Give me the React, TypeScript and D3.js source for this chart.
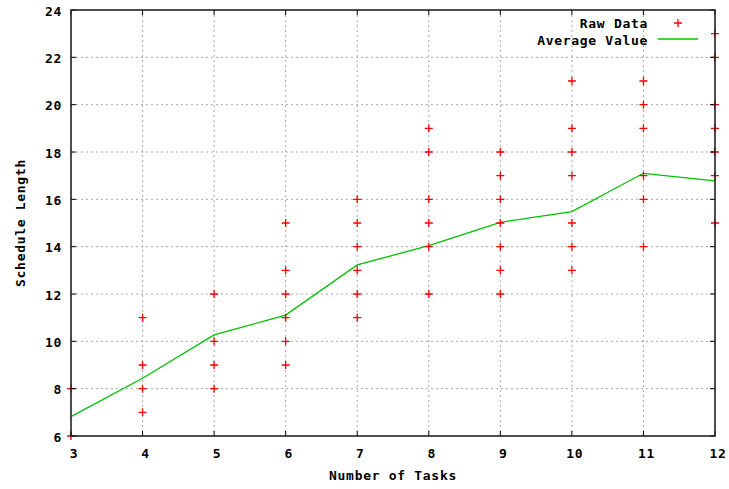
import React from "react";
import * as d3 from "d3";

const taskCounts = [3, 4, 5, 6, 7, 8, 9, 10, 11, 12];
const rawData: number[][] = [
  [8, 6],
  [11, 9, 8, 7],
  [12, 10, 9, 8],
  [15, 13, 12, 11, 10, 9],
  [16, 15, 14, 13, 12, 11],
  [19, 18, 16, 15, 14, 12],
  [18, 17, 16, 15, 14, 13, 12],
  [21, 19, 18, 17, 15, 14, 13],
  [21, 20, 19, 17, 16, 14],
  [23, 22, 20, 19, 18, 17, 15],
];
const averageValues = [6.82, 8.44, 10.27, 11.11, 13.23, 14.04, 15.03, 15.48, 17.1, 16.78];
const xTicks = [3, 4, 5, 6, 7, 8, 9, 10, 11, 12];
const yTicks = [6, 8, 10, 12, 14, 16, 18, 20, 22, 24];
const xLabel = "Number of Tasks";
const yLabel = "Schedule Length";
const legendRaw = "Raw Data";
const legendAvg = "Average Value";

const W = 729;
const H = 489;
const L = 71, R = 715, T = 10, B = 436;
const FONT = "'DejaVu Sans Mono', monospace";
const RED = "#ff0000";
const GREEN = "#00c000";

export default function App() {
  const x = d3.scaleLinear().domain([3, 12]).range([L, R]);
  const y = d3.scaleLinear().domain([6, 24]).range([B, T]);
  const points = taskCounts.flatMap((t, i) => rawData[i].map((v) => [t, v] as [number, number]));
  const line = d3
    .line<number>()
    .x((_, i) => x(taskCounts[i]))
    .y((d) => y(d));
  const plus = (cx: number, cy: number, k: string) => (
    <path key={k} d={`M${cx - 4},${cy}H${cx + 4}M${cx},${cy - 4}V${cy + 4}`} stroke={RED} strokeWidth={1.3} />
  );
  const textStyle = { fontFamily: FONT, fontWeight: 700, fontSize: 13, letterSpacing: 0.7 } as const;
  return (
    <svg width={W} height={H} style={{ position: "absolute", left: 0, top: 0, background: "#fff" }}>
      <rect x={0} y={0} width={W} height={H} fill="#fff" />
      {/* grid */}
      <g stroke="#a8a8a8" strokeWidth={1} strokeDasharray="2,3">
        {xTicks.slice(1, -1).map((t) => (
          <line key={"gx" + t} x1={x(t)} x2={x(t)} y1={T} y2={B} />
        ))}
        {yTicks.slice(1, -1).map((t) => (
          <line key={"gy" + t} x1={L} x2={R} y1={y(t)} y2={y(t)} />
        ))}
      </g>
      {/* average line */}
      <path d={line(averageValues) || ""} fill="none" stroke={GREEN} strokeWidth={1.3} />
      {/* raw points */}
      {points.map(([t, v], i) => plus(x(t), y(v), "p" + i))}
      {/* ticks */}
      <g stroke="#000" strokeWidth={1}>
        {xTicks.map((t) => (
          <g key={"tx" + t}>
            <line x1={x(t)} x2={x(t)} y1={B} y2={B - 5} />
            <line x1={x(t)} x2={x(t)} y1={T} y2={T + 5} />
          </g>
        ))}
        {yTicks.map((t) => (
          <g key={"ty" + t}>
            <line x1={L} x2={L + 5} y1={y(t)} y2={y(t)} />
            <line x1={R} x2={R - 5} y1={y(t)} y2={y(t)} />
          </g>
        ))}
      </g>
      {/* border */}
      <rect x={L} y={T} width={R - L} height={B - T} fill="none" stroke="#222" strokeWidth={1.6} />
      {/* tick labels */}
      <g style={textStyle} fill="#000">
        {yTicks.map((t) => (
          <text key={"ly" + t} x={62} y={y(t) + 1} textAnchor="end" dominantBaseline="central">
            {t}
          </text>
        ))}
        {xTicks.map((t) => (
          <text key={"lx" + t} x={x(t) + 3} y={453} textAnchor="middle" dominantBaseline="central">
            {t}
          </text>
        ))}
        <text x={(L + R) / 2} y={475} textAnchor="middle" dominantBaseline="central">
          {xLabel}
        </text>
        <text
          transform={`translate(20,${(T + B) / 2}) rotate(-90)`}
          textAnchor="middle"
          dominantBaseline="central"
        >
          {yLabel}
        </text>
        <text x={648} y={23} textAnchor="end" dominantBaseline="central">
          {legendRaw}
        </text>
        <text x={648} y={40} textAnchor="end" dominantBaseline="central">
          {legendAvg}
        </text>
      </g>
      {plus(678, 23, "legendplus")}
      <line x1={658} x2={698} y1={39} y2={39} stroke={GREEN} strokeWidth={1.3} />
    </svg>
  );
}
